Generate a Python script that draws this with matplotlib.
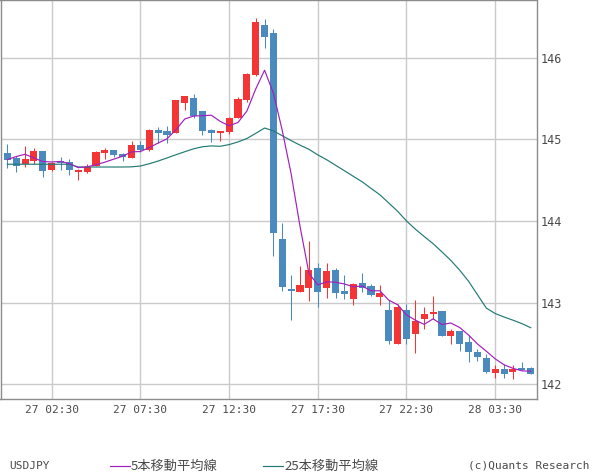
import matplotlib
matplotlib.use("Agg")
import matplotlib.pyplot as plt
from matplotlib.lines import Line2D
import numpy as np
import pandas as pd

# ---- data (30-minute USDJPY candles) ----
opens = [144.830, 144.768, 144.699, 144.735, 144.854, 144.622, 144.732, 144.719, 144.603, 144.597,
         144.677, 144.830, 144.866, 144.817, 144.772, 144.927, 144.866, 145.111, 145.099, 145.078,
         145.447, 145.502, 145.343, 145.111, 145.078, 145.090, 145.266, 145.478, 145.784, 146.395,
         146.301, 143.778, 143.166, 143.133, 143.182, 143.423, 143.178, 143.398, 143.145, 143.044,
         143.239, 143.203, 143.072, 142.909, 142.497, 142.909, 142.620, 142.799, 142.866, 142.897,
         142.595, 142.652, 142.518, 142.395, 142.318, 142.142, 142.184, 142.145, 142.200, 142.200]
highs = [144.940, 144.793, 144.915, 144.891, 144.860, 144.720, 144.781, 144.756, 144.634, 144.695,
         144.854, 144.891, 144.866, 144.836, 144.976, 144.980, 145.123, 145.148, 145.164, 145.478,
         145.527, 145.551, 145.343, 145.123, 145.105, 145.274, 145.518, 145.814, 146.481, 146.469,
         146.346, 143.970, 143.337, 143.447, 143.753, 143.490, 143.484, 143.423, 143.337, 143.240,
         143.362, 143.227, 143.219, 143.031, 142.982, 142.988, 143.037, 142.946, 143.080, 142.897,
         142.677, 142.652, 142.607, 142.432, 142.371, 142.236, 142.245, 142.236, 142.273, 142.206]
lows = [144.652, 144.601, 144.660, 144.703, 144.540, 144.606, 144.628, 144.560, 144.499, 144.591,
        144.671, 144.756, 144.784, 144.732, 144.768, 144.845, 144.860, 144.956, 144.956, 145.074,
        145.356, 145.266, 145.050, 144.968, 144.976, 145.062, 145.266, 145.457, 145.771, 146.118,
        143.573, 143.145, 142.787, 143.133, 143.023, 142.950, 143.060, 143.056, 143.048, 142.974,
        143.133, 143.084, 142.970, 142.493, 142.493, 142.490, 142.389, 142.677, 142.799, 142.591,
        142.497, 142.407, 142.276, 142.281, 142.144, 142.083, 142.083, 142.065, 142.171, 142.126]
closes = [144.744, 144.674, 144.756, 144.854, 144.613, 144.716, 144.707, 144.622, 144.609, 144.664,
          144.842, 144.866, 144.805, 144.789, 144.927, 144.866, 145.111, 145.078, 145.050, 145.478,
          145.527, 145.291, 145.102, 145.078, 145.099, 145.261, 145.490, 145.796, 146.432, 146.252,
          143.855, 143.194, 143.145, 143.215, 143.398, 143.133, 143.386, 143.117, 143.109, 143.227,
          143.178, 143.096, 143.117, 142.534, 142.946, 142.555, 142.775, 142.860, 142.872, 142.595,
          142.652, 142.497, 142.399, 142.330, 142.147, 142.187, 142.132, 142.182, 142.175, 142.126]

# moving-average values before a full window is available
ma5_head = [144.752, 144.789, 144.817, 144.772]
ma25_head = [144.695, 144.695, 144.695, 144.695, 144.695, 144.695, 144.695, 144.695,
             144.661, 144.661, 144.661, 144.661, 144.661, 144.661, 144.663, 144.673,
             144.701, 144.734, 144.772, 144.811, 144.848, 144.884, 144.909, 144.919]

start_time = "2000-01-27 00:00"
tick_labels = ["27 02:30", "27 07:30", "27 12:30", "27 17:30", "27 22:30", "28 03:30"]
y_ticks = [142, 143, 144, 145, 146]

symbol = "USDJPY"
ma5_label = "5本移動平均線"
ma25_label = "25本移動平均線"
credit = "(c)Quants Research"

# ---- derived ----
df = pd.DataFrame({"o": opens, "h": highs, "l": lows, "c": closes})
df.index = pd.date_range(start_time, periods=len(df), freq="30min")
n = len(df)
idx = np.arange(n)
ma5 = df["c"].rolling(5).mean().to_numpy()
ma5[:len(ma5_head)] = ma5_head
ma25 = df["c"].rolling(25).mean().to_numpy()
ma25[:len(ma25_head)] = ma25_head
time_lbl = list(df.index.strftime("%d %H:%M"))
tick_pos = [time_lbl.index(t) for t in tick_labels]

RED = "#f43535"
BLUE = "#4b8abf"
PURPLE = "#a21fbd"
TEAL = "#217a74"
GRID = "#cacaca"
SPINE = "#8c8c8c"
TXT = "#4a4a4a"

fig = plt.figure(figsize=(6.0, 4.75), dpi=100)
ax = fig.add_axes([0.5 / 600, 1 - 399 / 475, 536.2 / 600, 398.5 / 475])

up = df["c"] >= df["o"]
colors = np.where(up, RED, BLUE)
body_lo = np.minimum(df["o"], df["c"]).to_numpy()
body_h = np.abs(df["c"] - df["o"]).to_numpy()
body_h = np.maximum(body_h, 0.016)

ax.vlines(idx, df["l"], df["h"], colors=colors, linewidth=0.75, zorder=2)
ax.bar(idx, body_h, bottom=body_lo, width=0.8, color=colors, linewidth=0, zorder=3)

ax.plot(idx, ma25, color=TEAL, linewidth=0.85, zorder=4)
ax.plot(idx, ma5, color=PURPLE, linewidth=0.85, zorder=5)

ax.set_xlim(-0.77, n - 0.32)
ax.set_ylim(141.82, 146.70)

ax.set_xticks(tick_pos)
ax.set_xticklabels(tick_labels, family="DejaVu Sans Mono", fontsize=8, color=TXT)
ax.set_yticks(y_ticks)
ax.set_yticklabels([str(v) for v in y_ticks], family="DejaVu Sans Mono", fontsize=8.5, color=TXT)
ax.yaxis.tick_right()
ax.tick_params(axis="both", length=0)
ax.tick_params(axis="x", pad=4)
ax.tick_params(axis="y", pad=3)
ax.grid(True, color=GRID, linewidth=1.0, zorder=0)
ax.set_axisbelow(True)
for s in ax.spines.values():
    s.set_color(SPINE)
    s.set_linewidth(1.0)

# ---- bottom legend / captions ----
ly = 1 - 466 / 475
fig.text(9.5 / 600, ly, symbol, family="DejaVu Sans Mono", fontsize=8, color=TXT, va="center", ha="left")
fig.add_artist(Line2D([110 / 600, 130 / 600], [ly, ly], color=PURPLE, linewidth=0.85))
fig.text(131 / 600, ly, ma5_label, family=["Noto Sans CJK JP", "DejaVu Sans"], fontsize=9.5,
         color=TXT, va="center", ha="left")
fig.add_artist(Line2D([263 / 600, 283 / 600], [ly, ly], color=TEAL, linewidth=0.85))
fig.text(284 / 600, ly, ma25_label, family=["Noto Sans CJK JP", "DejaVu Sans"], fontsize=9.5,
         color=TXT, va="center", ha="left")
fig.text(590 / 600, ly, credit, family="DejaVu Sans Mono", fontsize=8, color=TXT, va="center", ha="right")

fig.savefig("out.png", dpi=100)
